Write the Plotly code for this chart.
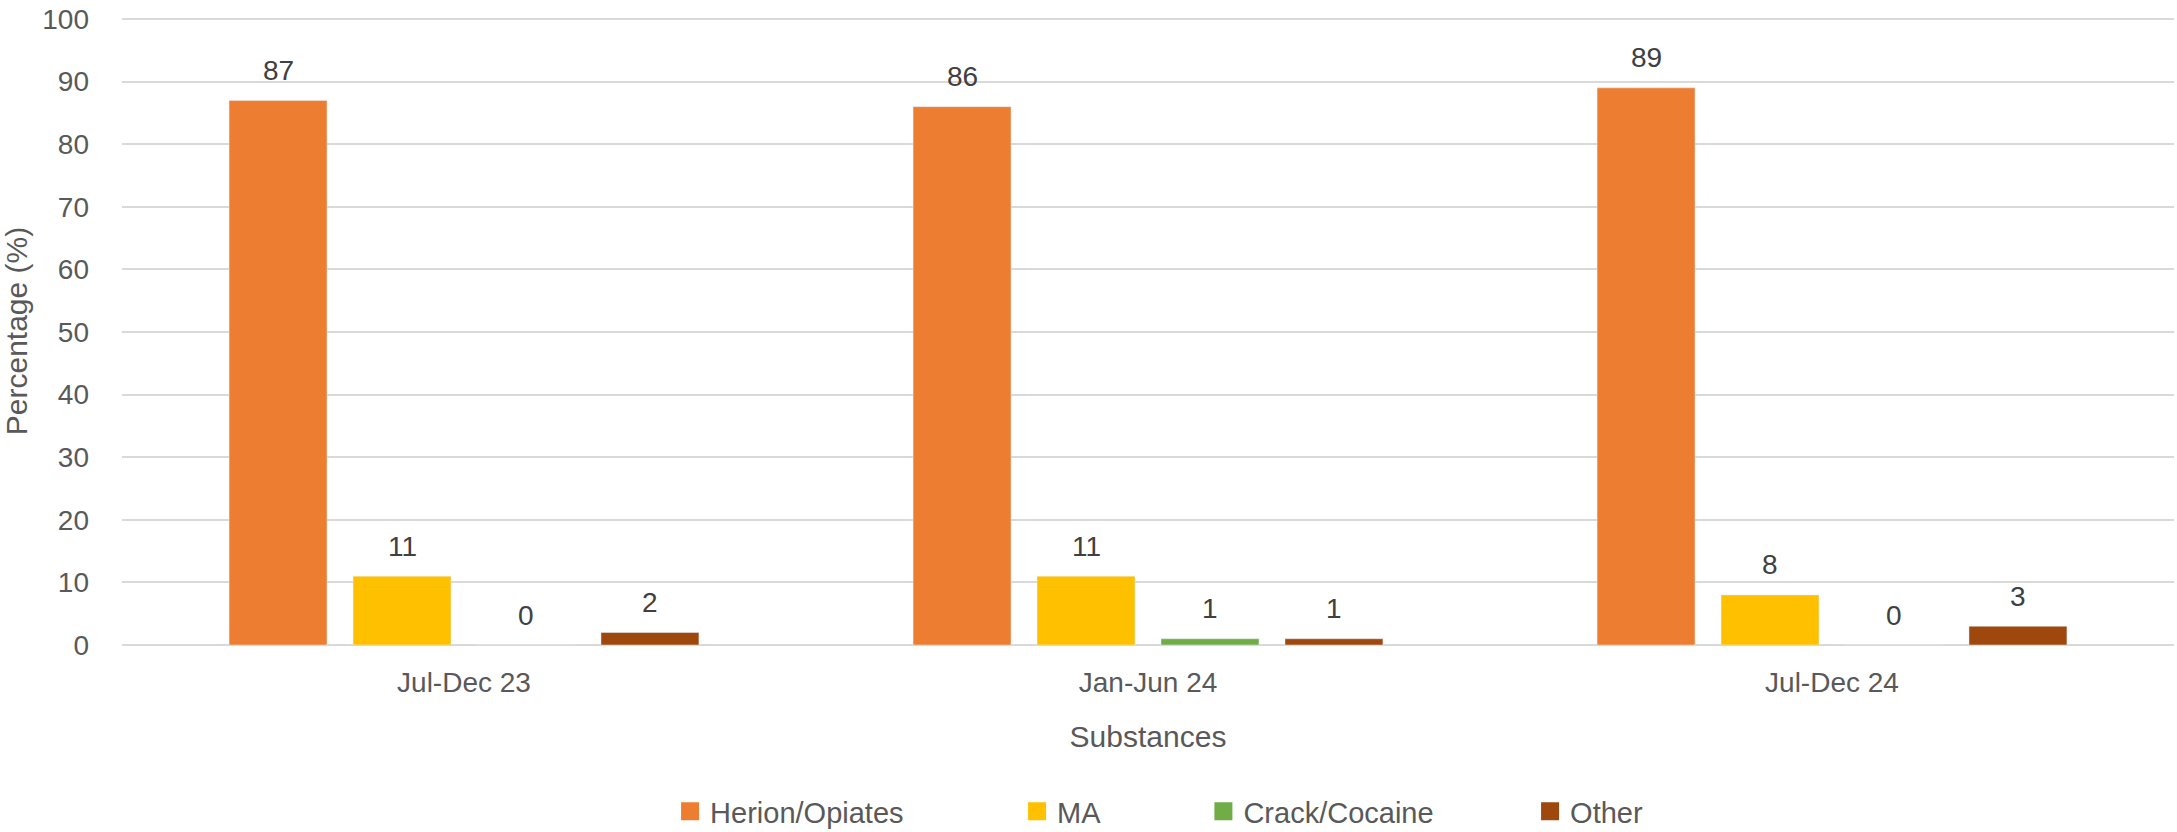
import plotly.graph_objects as go

categories = ["Jul-Dec 23", "Jan-Jun 24", "Jul-Dec 24"]
series_names = ["Herion/Opiates", "MA", "Crack/Cocaine", "Other"]
heroin = [87, 86, 89]
ma = [11, 11, 8]
crack = [0, 1, 0]
other = [2, 1, 3]
series_values = [heroin, ma, crack, other]
colors = ["#ED7D31", "#FFC000", "#70AD47", "#9E480E"]
y_ticks = [0, 10, 20, 30, 40, 50, 60, 70, 80, 90, 100]

FONT = "Liberation Sans"
TXT = "#595959"
W, H = 2177, 832
ML, MR, MT, MB = 122, 3, 17, 187
Y_TOP = 100.32
BARGAP = 0.275
GROUPGAP = 0.21

legend_x = [0.2671, 0.4362, 0.5270, 0.6862]
plot_h = H - MT - MB
legend_y = -(MB + 5) / plot_h

fig = go.Figure()
n = len(series_names)
for j, (name, vals, col) in enumerate(zip(series_names, series_values, colors)):
    lg = "legend" if j == 0 else f"legend{j+1}"
    fig.add_trace(go.Bar(
        x=categories, y=vals, name=name, marker_color=col,
        showlegend=False, hoverinfo="x+y+name",
    ))
    # legend entry (larger square swatch, like the reference)
    fig.add_trace(go.Scatter(
        x=[None], y=[None], mode="markers", name=name, legend=lg,
        marker=dict(symbol="square", size=16, color=col,
                    line=dict(color=col, width=2)),
        hoverinfo="skip",
    ))

# data labels above bars
slot = (1 - BARGAP) / n
annotations = []
for j, vals in enumerate(series_values):
    off = -(1 - BARGAP) / 2 + (j + 0.5) * slot
    for i, v in enumerate(vals):
        annotations.append(dict(
            x=i + off, y=v, xref="x", yref="y", text=str(v),
            showarrow=False, yanchor="middle", yshift=30,
            font=dict(family=FONT, size=28, color="#404040"),
        ))

layout_legends = {}
for j in range(n):
    key = "legend" if j == 0 else f"legend{j+1}"
    layout_legends[key] = dict(
        x=legend_x[j], xanchor="left", y=legend_y, yanchor="bottom",
        orientation="h", bgcolor="rgba(0,0,0,0)",
        font=dict(family=FONT, size=29, color=TXT),
    )

fig.update_layout(
    width=W, height=H,
    margin=dict(l=ML, r=MR, t=MT, b=MB, pad=0, autoexpand=False),
    paper_bgcolor="white", plot_bgcolor="white",
    barmode="group", bargap=BARGAP, bargroupgap=GROUPGAP,
    font=dict(family=FONT, size=28, color=TXT),
    showlegend=True,
    annotations=annotations,
    xaxis=dict(
        type="category", categoryorder="array", categoryarray=categories,
        range=[-0.5, len(categories) - 0.5],
        showgrid=False, showline=False, zeroline=False,
        automargin=False,
        ticks="", ticklabelstandoff=18,
        tickfont=dict(family=FONT, size=28, color=TXT),
        title=dict(text="Substances", standoff=28,
                   font=dict(family=FONT, size=30, color=TXT)),
    ),
    yaxis=dict(
        range=[0, Y_TOP], tickvals=y_ticks, showgrid=True,
        gridcolor="#D9D9D9", gridwidth=2, zeroline=True,
        zerolinecolor="#D9D9D9", zerolinewidth=2, showline=False,
        automargin=False,
        ticks="", ticklabelstandoff=32,
        tickfont=dict(family=FONT, size=28, color=TXT),
        title=dict(text="Percentage (%)", standoff=14,
                   font=dict(family=FONT, size=30, color=TXT)),
    ),
    **layout_legends,
)

fig.write_html("out.html", config={"displayModeBar": False},
               post_script="document.body.style.margin='0';")
